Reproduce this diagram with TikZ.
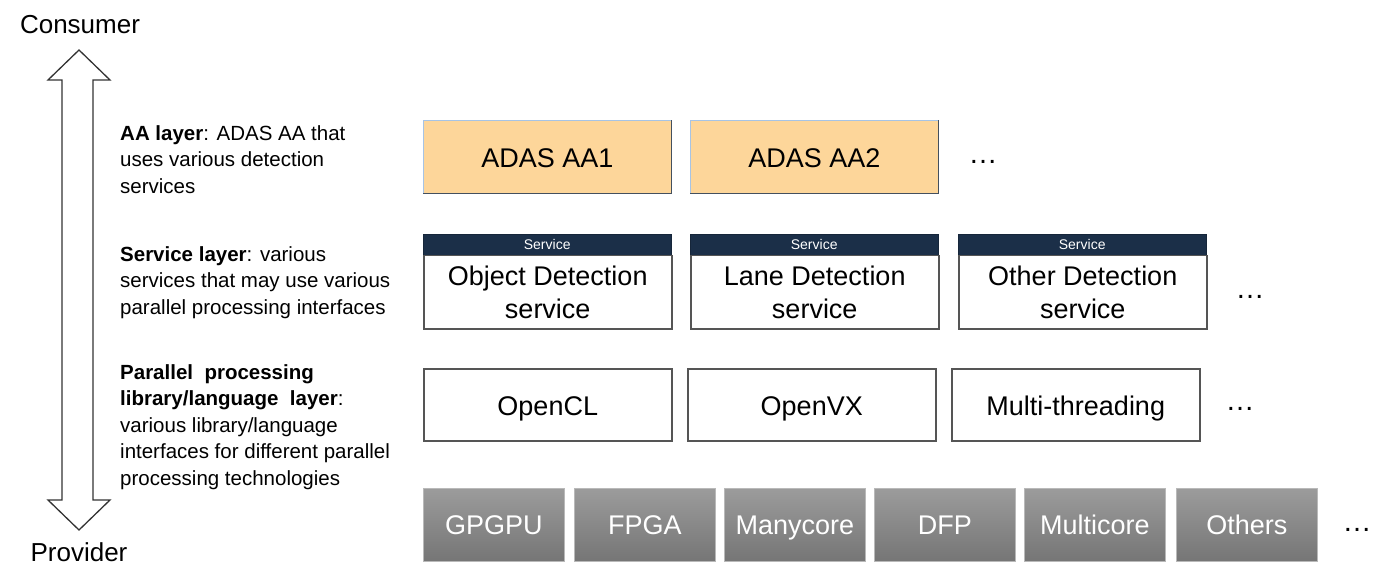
\documentclass[tikz,border=0pt]{standalone}
\usepackage{fontspec}
\setmainfont{Liberation Sans}
\usetikzlibrary{positioning}

\definecolor{aafill}{HTML}{FDD69A}
\definecolor{aaedge}{HTML}{A7C4E5}
\definecolor{aashade}{HTML}{44505E}
\definecolor{navy}{HTML}{1B2F48}
\definecolor{boxedge}{HTML}{555555}

\tikzset{
  layertext/.style={anchor=north west, inner sep=0pt, align=left,
    font=\fontsize{20.5}{26.5}\selectfont},
  aabox/.style={anchor=north west, minimum width=248pt, minimum height=73pt,
    fill=aafill, draw=aaedge, line width=0.8pt, inner sep=0pt,
    text height=24pt, text depth=3pt,
    font=\fontsize{27}{33}\selectfont},
  svchead/.style={anchor=north west, minimum width=248pt, minimum height=21pt,
    fill=navy, draw=navy!80!black, inner sep=0pt, text=white,
    font=\fontsize{14}{16}\selectfont},
  svcbody/.style={anchor=north west, minimum width=248pt, minimum height=73pt,
    draw=boxedge, line width=1.5pt, inner sep=0pt, align=center,
    font=\fontsize{27}{33}\selectfont},
  libbox/.style={anchor=north west, minimum width=248pt, minimum height=72pt,
    draw=boxedge, line width=1.5pt, inner sep=0pt,
    text height=24pt, text depth=3pt,
    font=\fontsize{27}{33}\selectfont},
  hwbox/.style={anchor=north west, minimum width=141pt, minimum height=73pt,
    top color=gray!78, bottom color=gray!92!black, draw=gray!55,
    line width=0.8pt, inner sep=0pt, text=white,
    text height=23pt, text depth=4pt,
    font=\fontsize{27}{33}\selectfont},
  dots/.style={font=\fontsize{29}{33}\selectfont}
}

\begin{document}
\begin{tikzpicture}[x=1pt, y=-1pt]
    \useasboundingbox (0,0) rectangle (1389,585);

    % Consumer / provider axis
    \node[font=\fontsize{26}{30}\selectfont] (consumer) at (80,25) {Consumer};
    \node[font=\fontsize{26}{30}\selectfont] (provider) at (79,552) {Provider};
    \draw[line width=1.3pt, draw=black!80, line join=miter]
        (79,50) -- (110,80) -- (93,80) -- (93,500) -- (110,500) -- (79,530)
        -- (48,500) -- (62,500) -- (62,80) -- (48,80) -- cycle;

    % Layer descriptions
    \node[layertext] (aatext) at (120,125)
        {\textbf{AA layer}: ADAS AA that\\uses various detection\\services};
    \node[layertext] (svctext) at (120,246)
        {\textbf{Service layer}: various\\services that may use various\\parallel processing interfaces};
    \node[layertext] (libtext) at (120,364)
        {\textbf{Parallel\ \ processing}\\\textbf{library/language\ \ layer}:\\various library/language\\interfaces for different parallel\\processing technologies};

    % AA layer
    \node[aabox] (aa1) at (423,120) {ADAS AA1};
    \node[aabox] (aa2) at (690,120) {ADAS AA2};
    \draw[aashade, line width=1.2pt] (aa1.south west) -- (aa1.south east) -- (aa1.north east);
    \draw[aashade, line width=1.2pt] (aa2.south west) -- (aa2.south east) -- (aa2.north east);
    \node[dots] (aadots) at (983,162) {…};

    % Service layer
    \node[svchead] (svc1h) at (423,234) {Service};
    \node[svcbody] (svc1) at (423,255) {Object Detection\\service};
    \node[svchead] (svc2h) at (690,234) {Service};
    \node[svcbody] (svc2) at (690,255) {Lane Detection\\service};
    \node[svchead] (svc3h) at (958,234) {Service};
    \node[svcbody] (svc3) at (958,255) {Other Detection\\service};
    \node[dots] (svcdots) at (1250,297) {…};

    % Parallel processing library/language layer
    \node[libbox] (opencl) at (423,368) {OpenCL};
    \node[libbox] (openvx) at (687,368) {OpenVX};
    \node[libbox] (mthread) at (951,368) {Multi-threading};
    \node[dots] (libdots) at (1240,409) {…};

    % Hardware
    \foreach \name/\x [count=\i] in {GPGPU/423, FPGA/574, Manycore/724, DFP/874, Multicore/1024, Others/1176}
        \node[hwbox] (hw\i) at (\x,488) {\name};
    \node[dots] (hwdots) at (1357,530) {…};
\end{tikzpicture}
\end{document}
